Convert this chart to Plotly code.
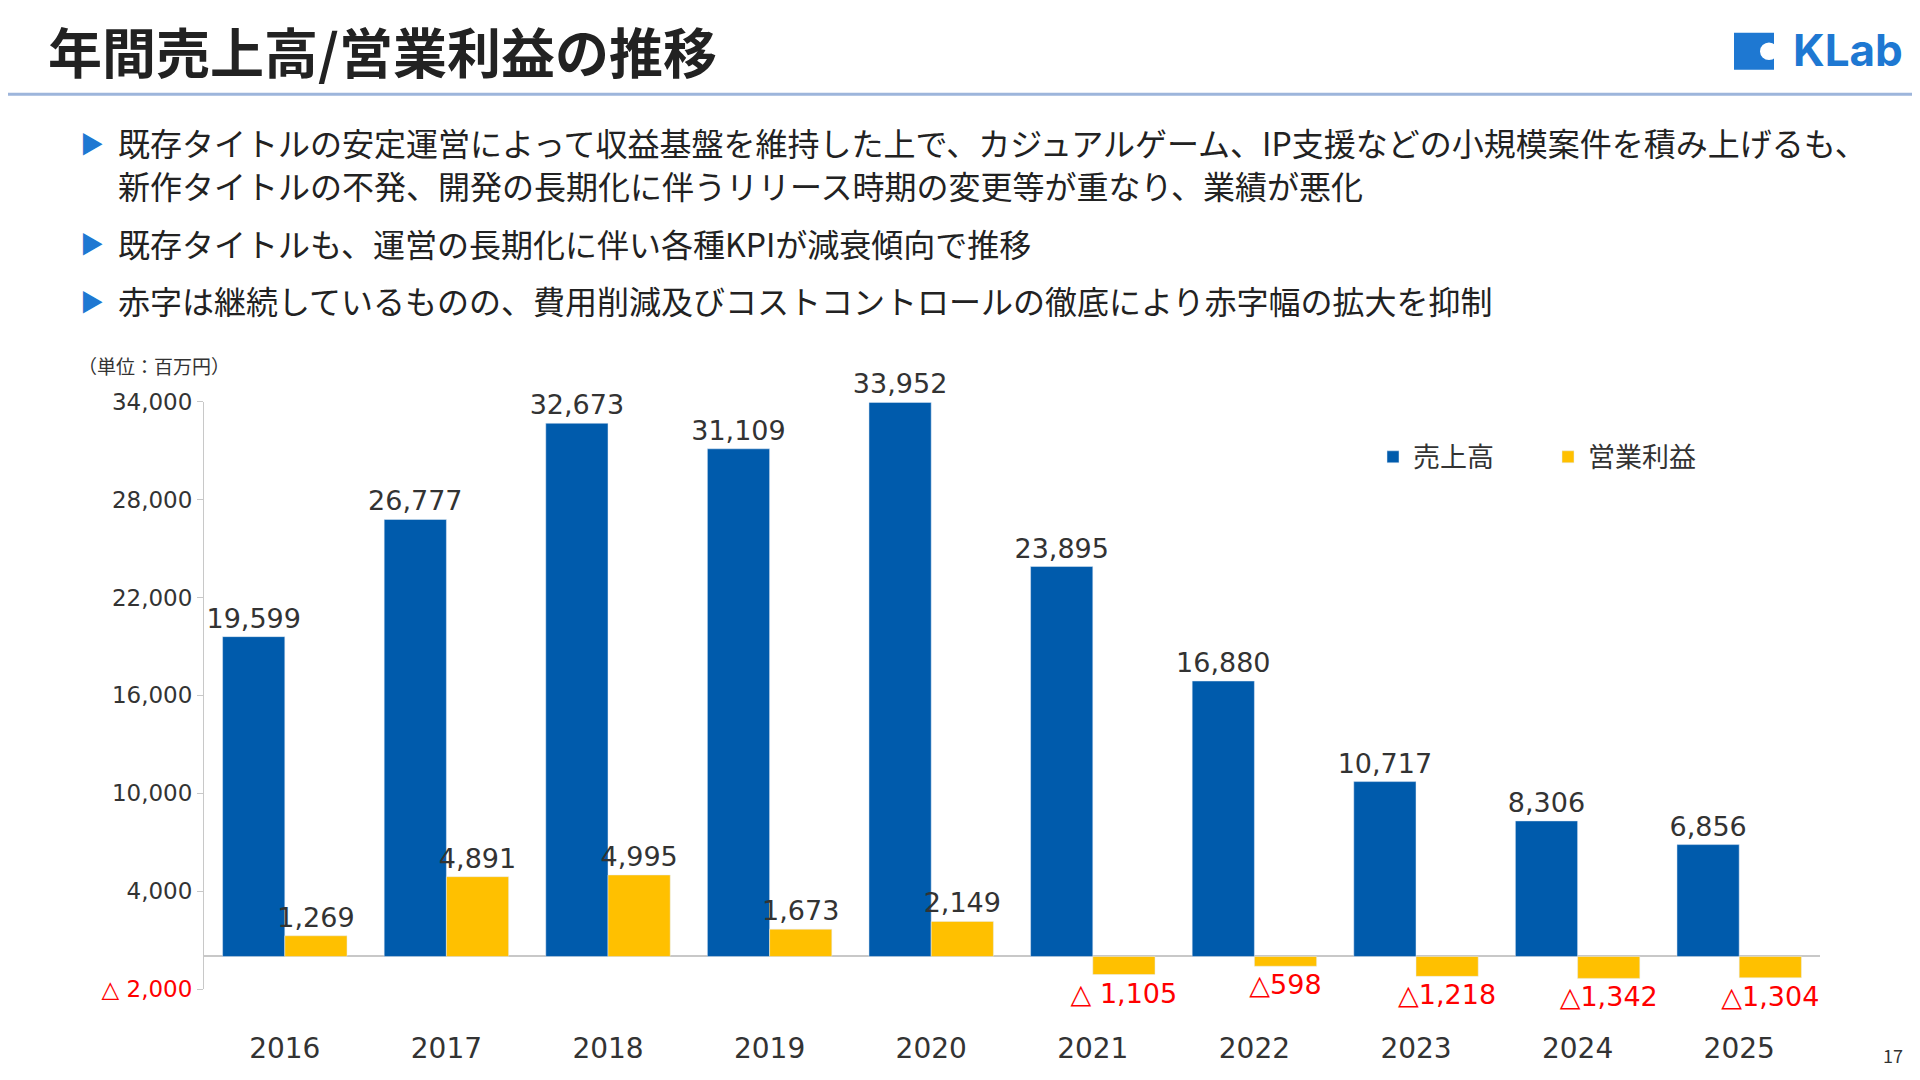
import plotly.graph_objects as go

years = ["2016","2017","2018","2019","2020","2021","2022","2023","2024","2025"]
sales = [19599, 26777, 32673, 31109, 33952, 23895, 16880, 10717, 8306, 6856]
profit = [1269, 4891, 4995, 1673, 2149, -1105, -598, -1218, -1342, -1304]
sales_labels = ["19,599","26,777","32,673","31,109","33,952","23,895","16,880","10,717","8,306","6,856"]
profit_labels = ["1,269","4,891","4,995","1,673","2,149","△ 1,105","△598","△1,218","△1,342","△1,304"]
ytick_vals = [-2000, 4000, 10000, 16000, 22000, 28000, 34000]
ytick_text = ["<span style='color:#FF0000'>△ 2,000</span>","4,000","10,000","16,000","22,000","28,000","34,000"]
bullets = [
    "既存タイトルの安定運営によって収益基盤を維持した上で、カジュアルゲーム、IP支援などの小規模案件を積み上げるも、",
    "新作タイトルの不発、開発の長期化に伴うリリース時期の変更等が重なり、業績が悪化",
    "既存タイトルも、運営の長期化に伴い各種KPIが減衰傾向で推移",
    "赤字は継続しているものの、費用削減及びコストコントロールの徹底により赤字幅の拡大を抑制",
]

F = "Noto Sans CJK JP"
N = "DejaVu Sans"
blue = "#005BAC"
yellow = "#FFC000"

fig = go.Figure()
fig.add_bar(x=years, y=sales, name="売上高", marker_color=blue, text=sales_labels,
            textposition="outside", constraintext="none",
            textfont=dict(size=27, color="#333", family=N), cliponaxis=False)
fig.add_bar(x=years, y=profit, name="営業利益", marker_color=yellow, text=profit_labels,
            textposition="outside", constraintext="none", cliponaxis=False,
            textfont=dict(size=27, family=N, color=["#333" if v > 0 else "#FF0000" for v in profit]))

fig.update_layout(
    width=1920, height=1080, autosize=False, margin=dict(l=0, r=0, t=0, b=0),
    paper_bgcolor="white", plot_bgcolor="white", barmode="group", bargap=0.23, bargroupgap=0,
    font=dict(family=F, color="#333"),
    legend=dict(orientation="h", x=1365/1920, y=1-447/1080, xanchor="left", yanchor="middle",
                font=dict(size=27, family=F), itemwidth=30, entrywidth=130),
    xaxis=dict(domain=[196/1920, 1812/1920], showline=False, ticks="", showgrid=False,
               tickfont=dict(size=28, family=N, color="#333"), ticklabelstandoff=40),
    yaxis=dict(domain=[1-992/1080, 1-390/1080], range=[-2000, 34000], tickvals=ytick_vals,
               ticktext=ytick_text, showgrid=False, showline=True, linecolor="#C8C8C8",
               ticks="outside", ticklen=6, tickcolor="#C8C8C8", zeroline=True, zerolinecolor="#C8C8C8",
               zerolinewidth=2, tickfont=dict(size=23, family=N, color="#333")),
    showlegend=True,
)

fig.add_annotation(text="<b>年間売上高/営業利益の推移</b>", x=38/1920, y=1-30/1080, xref="paper", yref="paper",
                   xanchor="left", yanchor="middle", showarrow=False, font=dict(size=54, family=F, color="#222"))
fig.add_shape(type="line", xref="paper", yref="paper", x0=0, x1=1, y0=1-75/1080, y1=1-75/1080,
              line=dict(color="#9DB5DB", width=3))
fig.add_annotation(text="<b>KLab</b>", x=1897/1920, y=1-30/1080, xref="paper", yref="paper",
                   xanchor="right", yanchor="middle", showarrow=False, font=dict(size=44, family="Inter", color="#1E78D2"))
fig.add_shape(type="rect", xref="paper", yref="paper", x0=1726/1920, x1=1766/1920, y0=1-50/1080, y1=1-12/1080,
              fillcolor="#1E78D2", line=dict(width=0))
fig.add_shape(type="circle", xref="paper", yref="paper", x0=1752/1920, x1=1770/1920, y0=1-40/1080, y1=1-22/1080,
              fillcolor="white", line=dict(width=0))

ys = [124, 168, 227, 286]
for i, (t, yy) in enumerate(zip(bullets, ys)):
    fig.add_annotation(text=t, x=108/1920, y=1-yy/1080, xref="paper", yref="paper", xanchor="left",
                       yanchor="middle", showarrow=False, font=dict(size=32, family=F, color="#222"))
    if i != 1:
        fig.add_annotation(text="▶", x=70/1920, y=1-yy/1080, xref="paper", yref="paper", xanchor="left",
                           yanchor="middle", showarrow=False, font=dict(size=24, family=F, color="#1E78D2"))

fig.add_annotation(text="（単位：百万円）", x=68/1920, y=1-353/1080, xref="paper", yref="paper", xanchor="left",
                   yanchor="middle", showarrow=False, font=dict(size=19, family=F, color="#333"))
fig.add_annotation(text="17", x=1897/1920, y=1-1059/1080, xref="paper", yref="paper", xanchor="right",
                   yanchor="middle", showarrow=False, font=dict(size=18, family=F, color="#333"))

fig.write_html("out.html")
